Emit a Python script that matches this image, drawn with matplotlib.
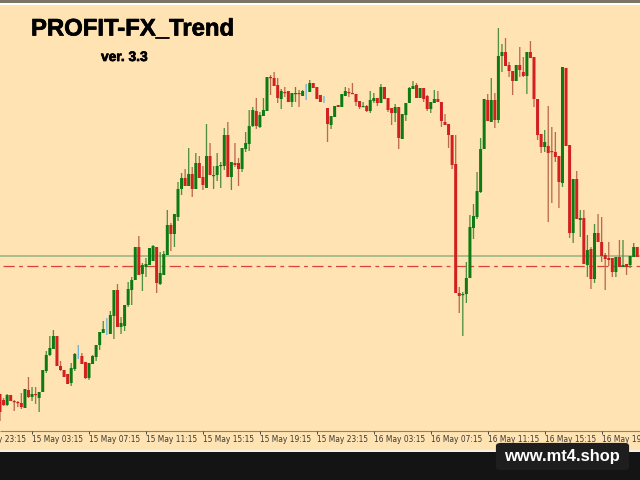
import matplotlib
matplotlib.use("Agg")
import matplotlib.pyplot as plt
import matplotlib.patheffects as pe
from matplotlib.patches import FancyBboxPatch, Rectangle

rows = [
 # body top, body bottom, wick top, wick bottom, kind (g = up, r = down, b = small blue bar)
 (394,412,394,421,'r'),(400,405,398,406,'r'),(395,405,394,406,'g'),(395,401,395,401,'r'),
 (401,402,400,411,'r'),(402,403,401,407,'r'),(403,407,393,409,'r'),(389,408,389,408,'g'),
 (390,397,377,398,'r'),(394,397,387,401,'g'),(394,395,387,404,'r'),(392,398,392,412,'g'),
 (370,392,370,392,'g'),(355,371,351,373,'g'),(348,355,336,356,'g'),(336,349,330,349,'g'),
 (336,366,336,366,'r'),(366,370,361,371,'r'),(370,377,370,377,'r'),(374,384,374,384,'r'),
 (368,383,363,386,'g'),(354,369,353,371,'g'),(354,355,345,359,'b'),(356,364,353,364,'r'),
 (362,378,362,379,'r'),(363,378,363,380,'g'),(356,364,355,364,'g'),(345,357,345,361,'g'),
 (332,345,332,350,'g'),(329,333,321,333,'g'),(328,329,318,335,'b'),(315,334,311,334,'g'),
 (290,316,290,339,'g'),(290,327,284,327,'r'),(323,327,317,334,'g'),(305,326,305,331,'g'),
 (289,305,282,307,'g'),(280,290,277,305,'g'),(247,280,247,280,'g'),(247,275,236,275,'r'),
 (265,274,263,291,'g'),(264,267,258,277,'g'),(248,265,248,265,'g'),(246,261,245,261,'g'),
 (247,283,247,293,'r'),(273,284,252,285,'g'),(254,275,251,275,'g'),(225,255,210,255,'g'),
 (225,234,223,251,'r'),(214,234,214,247,'g'),(189,217,182,221,'g'),(178,189,173,195,'g'),
 (178,186,169,186,'r'),(174,186,148,186,'g'),(174,189,167,197,'r'),(163,189,153,189,'g'),
 (163,178,156,178,'r'),(177,185,166,190,'r'),(156,188,124,188,'g'),(156,175,143,175,'r'),
 (175,176,166,189,'g'),(166,175,153,181,'g'),(165,166,162,188,'g'),(135,166,128,170,'g'),
 (135,177,122,177,'r'),(162,177,162,190,'g'),(163,165,143,167,'r'),(163,169,158,186,'r'),
 (148,169,148,172,'g'),(143,149,132,152,'g'),(126,144,110,151,'g'),(110,126,107,127,'g'),
 (111,126,98,129,'r'),(115,127,112,128,'g'),(110,116,98,116,'g'),(77,111,77,111,'g'),
 (77,78,75,95,'r'),(78,86,72,86,'r'),(85,98,78,103,'r'),(91,99,89,109,'g'),
 (92,93,87,97,'r'),(91,102,91,102,'r'),(93,102,93,107,'g'),(93,94,87,102,'g'),
 (93,94,90,107,'r'),(91,96,90,96,'g'),(88,89,84,100,'b'),(83,92,80,92,'g'),
 (83,88,83,88,'r'),(87,99,87,99,'r'),(95,102,95,102,'r'),(98,99,96,103,'b'),
 (108,124,108,142,'r'),(116,125,116,129,'g'),(106,117,106,117,'g'),(105,107,105,107,'r'),
 (94,107,94,107,'g'),(91,96,87,96,'g'),(92,93,88,97,'r'),(93,94,83,94,'r'),
 (94,102,94,106,'r'),(101,107,101,109,'r'),(106,107,102,107,'g'),(106,111,105,112,'r'),
 (100,111,91,113,'g'),(98,101,93,103,'g'),(98,103,98,106,'r'),(87,103,84,103,'g'),
 (87,99,87,99,'r'),(98,110,98,112,'r'),(108,113,108,125,'r'),(107,113,104,122,'g'),
 (107,138,107,149,'r'),(114,139,114,139,'g'),(103,115,103,121,'g'),(88,103,87,103,'g'),
 (86,89,81,89,'g'),(85,98,83,98,'r'),(88,98,88,98,'g'),(88,99,88,102,'r'),
 (96,109,95,111,'r'),(102,109,102,113,'g'),(99,103,90,103,'g'),(99,102,91,102,'r'),
 (102,121,102,127,'r'),(122,125,114,125,'r'),(124,135,124,148,'r'),(135,165,135,169,'r'),
 (164,293,135,293,'r'),(293,296,287,313,'r'),(294,295,292,336,'g'),(278,294,262,303,'g'),
 (227,278,215,278,'g'),(216,228,204,239,'g'),(191,217,172,219,'g'),(149,192,138,193,'g'),
 (99,149,99,149,'g'),(100,121,94,121,'r'),(100,122,78,122,'g'),(100,120,93,128,'r'),
 (56,120,28,123,'g'),(52,56,44,72,'g'),(52,66,38,66,'r'),(65,71,62,77,'r'),
 (71,81,71,95,'r'),(65,81,65,81,'g'),(65,70,47,77,'r'),(72,76,57,77,'r'),
 (52,76,52,94,'g'),(52,58,41,58,'r'),(57,99,57,107,'r'),(99,135,99,140,'r'),
 (134,147,134,153,'r'),(142,147,130,152,'g'),(146,153,106,222,'r'),(151,152,127,203,'r'),
 (152,157,132,162,'r'),(156,182,156,208,'r'),(67,183,67,187,'g'),(68,146,68,146,'r'),
 (145,233,145,238,'r'),(179,233,179,243,'g'),(179,219,171,219,'r'),(218,220,210,237,'g'),
 (218,264,210,264,'r'),(250,265,235,277,'g'),(249,279,247,289,'r'),(233,279,224,283,'g'),
 (233,242,214,242,'r'),(242,256,217,262,'r'),(255,259,253,290,'r'),(258,260,242,266,'r'),
 (258,272,258,277,'r'),(257,272,257,277,'g'),(257,267,240,267,'r'),(265,267,240,267,'g'),
 (264,267,264,275,'r'),(256,265,256,268,'g'),(247,257,243,257,'g'),(247,257,247,257,'r'),
]
body_top = [r[0] for r in rows]
body_bottom = [r[1] for r in rows]
wick_top = [r[2] for r in rows]
wick_bottom = [r[3] for r in rows]
bar_kinds = [r[4] for r in rows]

tick_labels = ["14 May 23:15", "15 May 03:15", "15 May 07:15", "15 May 11:15", "15 May 15:15",
               "15 May 19:15", "15 May 23:15", "16 May 03:15", "16 May 07:15", "16 May 11:15",
               "16 May 15:15", "16 May 19:15"]
tick_bars = [-7, 9, 25, 41, 57, 73, 89, 105, 121, 137, 153, 169]
support_level = 256
signal_level = 265.5

BG = "#FFE3B3"
BODY = {"g": "#0E7A12", "r": "#D2201F", "b": "#4FA0D0"}
WICK = {"g": "#4F9040", "r": "#BC6A4E", "b": "#6FB4DC"}
STEP = 3.56

fig = plt.figure(figsize=(6.4, 4.8), dpi=100, facecolor=BG)
ax = fig.add_axes([0, 0, 1, 1], facecolor=BG)
ax.set_xlim(0, 640 / STEP)
ax.set_ylim(480, 0)
ax.axis("off")

ax.axhline(support_level, color="#A3B98A", lw=1.3, zorder=1)
ax.plot([3 / STEP, 640 / STEP], [signal_level] * 2, color="#D8433A", lw=0.9,
        dashes=(9, 3.5, 3, 3.5), zorder=1)

for i in range(len(rows)):
    k = bar_kinds[i]
    v = ax.vlines(i, wick_top[i], wick_bottom[i], color=WICK[k], lw=0.95, zorder=2)
    v.set_snap(False)
    if k == "b":
        continue
    h = max(body_bottom[i] - body_top[i], 1.2)
    for patch in ax.bar(i, h, bottom=body_top[i], width=3.0 / STEP, color=BODY[k], lw=0, zorder=3):
        patch.set_snap(False)

# top strip
ax.add_patch(Rectangle((0, 0), 640 / STEP, 2.6, color="#7A7464", lw=0, zorder=5))
ax.add_patch(Rectangle((0, 2.6), 640 / STEP, 2, color="#FFFFFF", lw=0, zorder=5))

# time axis
ax.hlines(431, 0, 640 / STEP, color="#8C8470", lw=0.8, zorder=4)
ax.vlines(tick_bars, 431, 434, color="#4A4A40", lw=0.7, zorder=4)
for b, lab in zip(tick_bars, tick_labels):
    ax.text(b + 0.1, 439.5, lab, fontsize=5.45, color="#3A3A34", ha="left", va="center",
            family="DejaVu Sans", zorder=5)

# bottom band
ax.add_patch(Rectangle((0, 450), 640 / STEP, 1.6, color="#F4F0E8", lw=0, zorder=5))
ax.add_patch(Rectangle((0, 451.6), 640 / STEP, 30, color="#141414", lw=0, zorder=5))
ax.add_patch(FancyBboxPatch((498 / STEP, 445), 129 / STEP, 23,
                            boxstyle="round,pad=0,rounding_size=1", mutation_aspect=1,
                            fc="#1E1E1E", ec="#1E1E1E", lw=3, zorder=6))
ax.text(562 / STEP, 456.5, "www.mt4.shop", color="white", fontsize=11.9, fontweight="bold",
        family="Liberation Sans", ha="center", va="center", zorder=7)

stroke = [pe.withStroke(linewidth=0.5, foreground="black")]
ax.text(31 / STEP, 29, "PROFIT-FX_Trend", fontsize=17.2, fontweight="bold", color="black",
        family="Liberation Sans", ha="left", va="center", zorder=7, path_effects=stroke)
ax.text(101 / STEP, 57, "ver. 3.3", fontsize=9.9, fontweight="bold", color="black",
        family="Liberation Sans", ha="left", va="center", zorder=7, path_effects=stroke)

fig.savefig("out.png", dpi=100, facecolor=BG)
